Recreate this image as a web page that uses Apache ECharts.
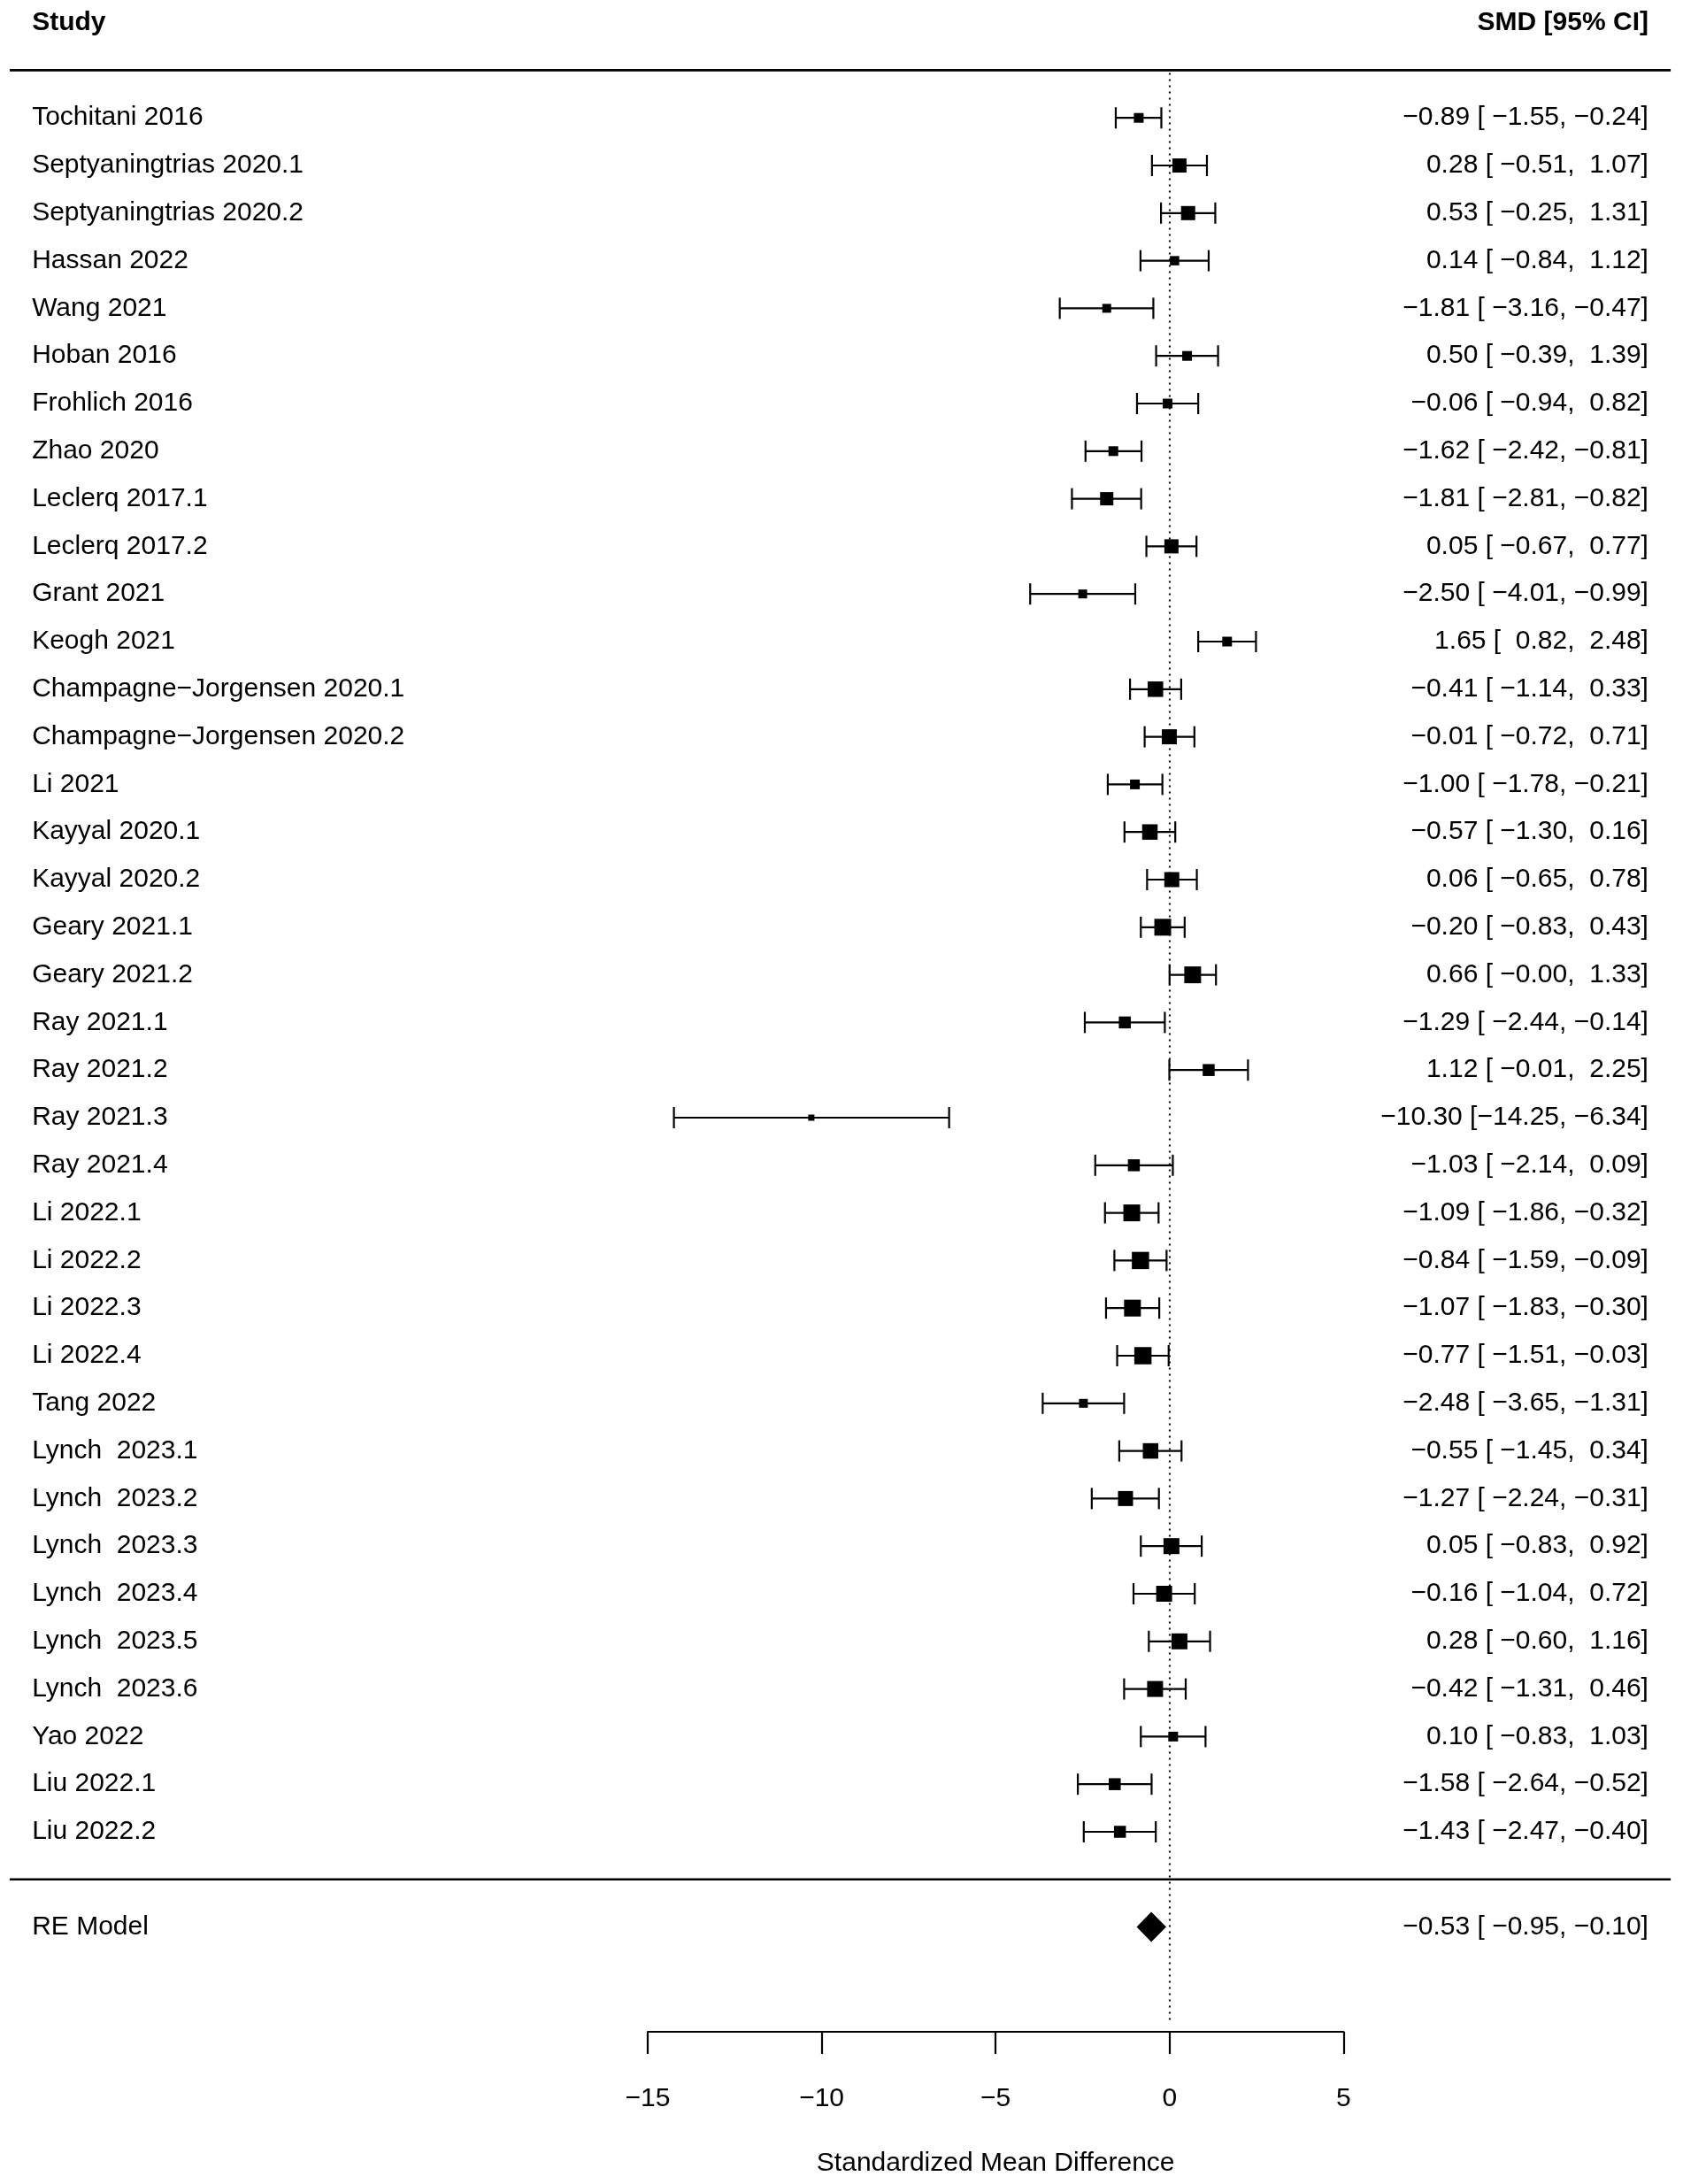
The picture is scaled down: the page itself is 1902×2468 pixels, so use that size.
<!DOCTYPE html>
<html>
<head>
<meta charset="utf-8">
<script src="https://cdn.jsdelivr.net/npm/echarts@6/dist/echarts.min.js"></script>
<style>
html,body{margin:0;padding:0;background:#ffffff;}
#chart{width:1902px;height:2468px;}
</style>
</head>
<body>
<div id="chart"></div>
<script>
// ---------------- data ----------------
const studies = [
  'Tochitani 2016', 'Septyaningtrias 2020.1', 'Septyaningtrias 2020.2', 'Hassan 2022',
  'Wang 2021', 'Hoban 2016', 'Frohlich 2016', 'Zhao 2020', 'Leclerq 2017.1', 'Leclerq 2017.2',
  'Grant 2021', 'Keogh 2021', 'Champagne\u2212Jorgensen 2020.1', 'Champagne\u2212Jorgensen 2020.2',
  'Li 2021', 'Kayyal 2020.1', 'Kayyal 2020.2', 'Geary 2021.1', 'Geary 2021.2',
  'Ray 2021.1', 'Ray 2021.2', 'Ray 2021.3', 'Ray 2021.4',
  'Li 2022.1', 'Li 2022.2', 'Li 2022.3', 'Li 2022.4', 'Tang 2022',
  'Lynch  2023.1', 'Lynch  2023.2', 'Lynch  2023.3', 'Lynch  2023.4', 'Lynch  2023.5', 'Lynch  2023.6',
  'Yao 2022', 'Liu 2022.1', 'Liu 2022.2'
];
const smd = [
  -0.89, 0.28, 0.53, 0.14, -1.81, 0.50, -0.06, -1.62, -1.81, 0.05,
  -2.50, 1.65, -0.41, -0.01, -1.00, -0.57, 0.06, -0.20, 0.66,
  -1.29, 1.12, -10.30, -1.03, -1.09, -0.84, -1.07, -0.77, -2.48,
  -0.55, -1.27, 0.05, -0.16, 0.28, -0.42, 0.10, -1.58, -1.43
];
const ciLower = [
  -1.55, -0.51, -0.25, -0.84, -3.16, -0.39, -0.94, -2.42, -2.81, -0.67,
  -4.01, 0.82, -1.14, -0.72, -1.78, -1.30, -0.65, -0.83, -0.004,
  -2.44, -0.01, -14.25, -2.14, -1.86, -1.59, -1.83, -1.51, -3.65,
  -1.45, -2.24, -0.83, -1.04, -0.60, -1.31, -0.83, -2.64, -2.47
];
const ciUpper = [
  -0.24, 1.07, 1.31, 1.12, -0.47, 1.39, 0.82, -0.81, -0.82, 0.77,
  -0.99, 2.48, 0.33, 0.71, -0.21, 0.16, 0.78, 0.43, 1.33,
  -0.14, 2.25, -6.34, 0.09, -0.32, -0.09, -0.30, -0.03, -1.31,
  0.34, -0.31, 0.92, 0.72, 1.16, 0.46, 1.03, -0.52, -0.40
];
// estimated relative model weights (%) read from the square sizes
const weights = [
  1.8, 2.8, 2.8, 1.7, 1.6, 1.8, 1.8, 1.8, 2.6, 2.8,
  1.6, 1.8, 3.1, 3.0, 1.8, 3.1, 3.0, 3.4, 3.4,
  2.3, 2.3, 1.0, 2.3, 3.4, 3.5, 3.4, 3.5, 1.6,
  3.1, 3.0, 3.2, 3.2, 3.2, 3.2, 1.8, 2.3, 2.3
];
const pooledLabel = ['RE Model'];
const pooledEst = [-0.53];
const pooledLower = [-0.95];
const pooledUpper = [-0.10];
const xTicks = [-15, -10, -5, 0, 5];
const headerLeft = 'Study';
const headerRight = 'SMD [95% CI]';
const axisTitle = 'Standardized Mean Difference';

// ---------------- layout ----------------
const FONT = 'Liberation Sans';
const FS = 30;
const X_MIN = -33.619, X_MAX = 14.753;   // full-width grid in data units
const Y_MIN = -6.398, Y_MAX = 39.476;    // full-height grid in row units
const X_TEXT_L = -32.70, X_TEXT_R = 13.76;
const X_RULE_L = -33.34, X_RULE_R = 14.40;
const SIZE_MIN = 7, SIZE_MAX = 19.5;
const CAP = 12;
const k = studies.length;

const minus = s => s.replace(/-/g, '\u2212');
const fmt = v => minus(v.toFixed(2));
const allE = smd.concat(pooledEst).map(fmt);
const allL = ciLower.concat(pooledLower).map(fmt);
const allU = ciUpper.concat(pooledUpper).map(fmt);
const wE = Math.max(...allE.map(s => s.length));
const wL = Math.max(...allL.map(s => s.length));
const wU = Math.max(...allU.map(s => s.length));
const pad = (s, w) => ' '.repeat(Math.max(0, w - s.length)) + s;
const ciText = (e, l, u) => pad(fmt(e), wE) + ' [' + pad(fmt(l), wL) + ', ' + pad(fmt(u), wU) + ']';

const wMin = Math.min(...weights), wMax = Math.max(...weights);
const sizeOf = w => SIZE_MIN + (w - wMin) / (wMax - wMin) * (SIZE_MAX - SIZE_MIN);

const studyRows = studies.map((s, i) => [smd[i], ciLower[i], ciUpper[i], k - i, weights[i], i]);

// ---------------- chart ----------------
const chart = echarts.init(document.getElementById('chart'), null, {renderer: 'canvas'});

const lineStyle = {stroke: '#000', lineWidth: 2.2};

const leftTextData = [[k + 2, headerLeft, 'bold']]
  .concat(studies.map((s, i) => [k - i, s, 'normal']))
  .concat(pooledLabel.map((s, i) => [-1 - i, s, 'normal']));
const rightTextData = [[k + 2, headerRight, 'bold']]
  .concat(studies.map((s, i) => [k - i, ciText(smd[i], ciLower[i], ciUpper[i]), 'normal']))
  .concat(pooledEst.map((e, i) => [-1 - i, ciText(e, pooledLower[i], pooledUpper[i]), 'normal']));

const option = {
  backgroundColor: '#ffffff',
  animation: false,
  grid: [
    {left: 0, right: 0, top: 0, bottom: 0},
    {left: 732, right: 383.6, top: 2200, bottom: 172}
  ],
  xAxis: [
    {gridIndex: 0, type: 'value', min: X_MIN, max: X_MAX, show: false},
    {
      gridIndex: 1, type: 'value', min: xTicks[0], max: xTicks[xTicks.length - 1],
      interval: xTicks[1] - xTicks[0], position: 'bottom',
      axisLine: {show: true, onZero: false, lineStyle: {color: '#000', width: 2.2}},
      axisTick: {show: true, inside: false, length: 25, lineStyle: {color: '#000', width: 2.2}},
      axisLabel: {
        show: true, margin: 61, color: '#000', fontSize: FS, fontFamily: FONT, lineHeight: FS,
        formatter: v => minus(String(v))
      },
      splitLine: {show: false},
      name: axisTitle, nameLocation: 'middle', nameGap: 134,
      nameTextStyle: {color: '#000', fontSize: FS, fontFamily: FONT, lineHeight: FS}
    }
  ],
  yAxis: [
    {gridIndex: 0, type: 'value', min: Y_MIN, max: Y_MAX, show: false},
    {gridIndex: 1, type: 'value', min: 0, max: 1, show: false}
  ],
  series: [
    // horizontal rules and reference line
    {
      type: 'custom', xAxisIndex: 0, yAxisIndex: 0, clip: false, silent: true,
      data: [[0]],
      renderItem: (params, api) => {
        const yTop = api.coord([0, k + 1])[1];
        const yBot = api.coord([0, 0])[1];
        const yRefEnd = api.coord([0, -3])[1];
        const xl = api.coord([X_RULE_L, 0])[0];
        const xr = api.coord([X_RULE_R, 0])[0];
        const x0 = api.coord([0, 0])[0];
        return {type: 'group', children: [
          {type: 'line', shape: {x1: xl, y1: yTop, x2: xr, y2: yTop}, style: {stroke: '#000', lineWidth: 2.6}},
          {type: 'line', shape: {x1: xl, y1: yBot, x2: xr, y2: yBot}, style: {stroke: '#000', lineWidth: 2.6}},
          {type: 'line', shape: {x1: x0, y1: yTop + 3, x2: x0, y2: yRefEnd},
           style: {stroke: '#000', lineWidth: 2, lineDash: [2, 5]}}
        ]};
      }
    },
    // confidence intervals
    {
      type: 'custom', xAxisIndex: 0, yAxisIndex: 0, clip: false, silent: true,
      data: studyRows,
      renderItem: (params, api) => {
        const y = api.coord([0, api.value(3)])[1];
        const x1 = api.coord([api.value(1), 0])[0];
        const x2 = api.coord([api.value(2), 0])[0];
        return {type: 'group', children: [
          {type: 'line', shape: {x1: x1, y1: y, x2: x2, y2: y}, style: lineStyle},
          {type: 'line', shape: {x1: x1, y1: y - CAP, x2: x1, y2: y + CAP}, style: lineStyle},
          {type: 'line', shape: {x1: x2, y1: y - CAP, x2: x2, y2: y + CAP}, style: lineStyle}
        ]};
      }
    },
    // squares
    {
      type: 'custom', xAxisIndex: 0, yAxisIndex: 0, clip: false, silent: true,
      data: studyRows,
      renderItem: (params, api) => {
        const p = api.coord([api.value(0), api.value(3)]);
        const s = sizeOf(api.value(4));
        return {type: 'rect', shape: {x: p[0] - s / 2, y: p[1] - s / 2, width: s, height: s},
                style: {fill: '#000'}};
      }
    },
    // pooled diamond
    {
      type: 'custom', xAxisIndex: 0, yAxisIndex: 0, clip: false, silent: true,
      data: pooledEst.map((e, i) => [e, pooledLower[i], pooledUpper[i], -1 - i]),
      renderItem: (params, api) => {
        const r = api.value(3);
        const c = api.coord([api.value(0), r]);
        const l = api.coord([api.value(1), r]);
        const u = api.coord([api.value(2), r]);
        const h = 17;
        return {type: 'polygon', shape: {points: [[l[0], c[1]], [c[0], c[1] - h], [u[0], c[1]], [c[0], c[1] + h]]},
                style: {fill: '#000'}};
      }
    },
    // left text column
    {
      type: 'custom', xAxisIndex: 0, yAxisIndex: 0, clip: false, silent: true,
      data: leftTextData.map(d => [d[0]]),
      renderItem: (params, api) => {
        const d = leftTextData[params.dataIndex];
        const p = api.coord([X_TEXT_L, d[0]]);
        return {type: 'text', style: {text: d[1], x: p[0], y: p[1], fill: '#000',
          fontSize: FS, fontFamily: FONT, fontWeight: d[2], align: 'left', verticalAlign: 'middle'}};
      }
    },
    // right text column
    {
      type: 'custom', xAxisIndex: 0, yAxisIndex: 0, clip: false, silent: true,
      data: rightTextData.map(d => [d[0]]),
      renderItem: (params, api) => {
        const d = rightTextData[params.dataIndex];
        const p = api.coord([X_TEXT_R, d[0]]);
        return {type: 'text', style: {text: d[1], x: p[0], y: p[1], fill: '#000',
          fontSize: FS, fontFamily: FONT, fontWeight: d[2], align: 'right', verticalAlign: 'middle'}};
      }
    },
    // empty series bound to the visible axis grid
    {
      type: 'scatter', xAxisIndex: 1, yAxisIndex: 1, data: [], silent: true
    }
  ]
};
chart.setOption(option);
</script>
</body>
</html>
